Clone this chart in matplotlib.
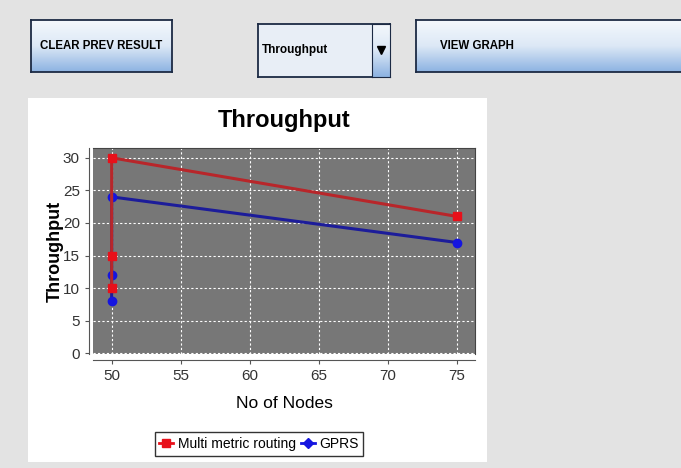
import matplotlib
matplotlib.use("Agg")
import matplotlib.pyplot as plt
import numpy as np
from matplotlib.patches import Rectangle
from matplotlib.lines import Line2D

# data
nodes_mmr = [50, 50, 50, 75]
thr_mmr = [10, 15, 30, 21]
nodes_gprs = [50, 50, 50, 75]
thr_gprs = [8, 12, 24, 17]
x_ticks = [50, 55, 60, 65, 70, 75]
y_ticks = [0, 5, 10, 15, 20, 25, 30]

W, H = 681, 468
plt.rcParams['font.family'] = ['Liberation Sans', 'DejaVu Sans']

fig = plt.figure(figsize=(W / 100, H / 100), dpi=100, facecolor='#e3e3e3')


def px_axes(x0, y0, x1, y1):
    # pixel box (top-left origin) -> figure axes
    return fig.add_axes([x0 / W, 1 - y1 / H, (x1 - x0) / W, (y1 - y0) / H])


grad = np.linspace(0, 1, 50).reshape(-1, 1)
btn_cmap = matplotlib.colors.LinearSegmentedColormap.from_list('btn', ['#f4f8fc', '#dce8f6', '#8db3e2'])


def button(x0, y0, x1, y1, label, cx=0.5):
    b = px_axes(x0, y0, x1, y1)
    b.imshow(grad, aspect='auto', cmap=btn_cmap, extent=[0, 1, 0, 1], origin='upper')
    b.set_xticks([])
    b.set_yticks([])
    for s in b.spines.values():
        s.set_color('#1c2a44')
        s.set_linewidth(1.3)
    b.text(cx, 0.5, label, ha='center', va='center', fontsize=8.3, fontweight='bold',
           transform=b.transAxes)
    return b


button(31, 20, 172, 72, "CLEAR PREV RESULT")
button(416, 20, 700, 72, "VIEW GRAPH", cx=0.215)

# combo box
cb = px_axes(258, 24, 390, 77)
cb.set_facecolor('#e8eef6')
cb.set_xticks([])
cb.set_yticks([])
for s in cb.spines.values():
    s.set_color('#1c2a44')
    s.set_linewidth(1.3)
cb.text(0.03, 0.5, "Throughput", ha='left', va='center', fontsize=8.5, fontweight='bold', transform=cb.transAxes)
arr = px_axes(372, 24, 390, 77)
arr.imshow(grad, aspect='auto', cmap=btn_cmap, extent=[0, 1, 0, 1])
arr.set_xticks([])
arr.set_yticks([])
for s in arr.spines.values():
    s.set_color('#1c2a44')
arr.plot([0.5], [0.5], marker='v', color='black', markersize=6, transform=arr.transAxes)

# white chart panel
fig.patches.append(Rectangle((28 / W, 1 - 462 / H), (487 - 28) / W, (462 - 98) / H,
                             transform=fig.transFigure, facecolor='white', edgecolor='none', zorder=-5))

ax = px_axes(93, 148, 475, 354)
ax.set_zorder(2)
ax.set_facecolor('#777777')
ax.plot(nodes_mmr, thr_mmr, color='#b8262a', lw=2.2, marker='s', markersize=6,
        markerfacecolor='#e8101a', markeredgecolor='#e8101a', label='Multi metric routing', zorder=3)
ax.plot(nodes_gprs, thr_gprs, color='#1c1c9a', lw=2.2, marker='o', markersize=6,
        markerfacecolor='#1515e0', markeredgecolor='#1515e0', label='GPRS', zorder=2)

ax.set_xlim(48.65, 76.3)
ax.set_ylim(-0.1, 31.5)
ax.set_xticks(x_ticks)
ax.set_yticks(y_ticks)
ax.grid(True, color='white', linestyle=(0, (2, 2)), linewidth=0.8)
ax.set_axisbelow(True)

ax.spines['left'].set_position(('outward', 3))
ax.spines['bottom'].set_position(('outward', 4))
ax.spines['top'].set_color('#444444')
ax.spines['right'].set_color('#444444')
ax.spines['left'].set_color('#555555')
ax.spines['bottom'].set_color('#555555')
ax.tick_params(axis='both', direction='out', length=3, color='#555555', labelsize=11, labelcolor='#333333')

ax.set_title("Throughput", fontsize=17, fontweight='bold', pad=15)
ax.set_xlabel("No of Nodes", fontsize=12.5, labelpad=10)
ax.set_ylabel("Throughput", fontsize=13, fontweight='bold', labelpad=-1)

handles = [Line2D([], [], color='#e8101a', lw=2, marker='s', markersize=6),
           Line2D([], [], color='#1515e0', lw=2, marker='D', markersize=5)]
leg = fig.legend(handles, ['Multi metric routing', 'GPRS'], loc='center',
                 bbox_to_anchor=(259 / W, 1 - 444 / H), ncol=2, fontsize=10,
                 frameon=True, fancybox=False, handlelength=1.0, handletextpad=0.3,
                 columnspacing=0.4, borderpad=0.35, borderaxespad=0)
leg.get_frame().set_edgecolor('black')
leg.get_frame().set_linewidth(1.0)

fig.savefig("out.png", dpi=100, facecolor=fig.get_facecolor())
